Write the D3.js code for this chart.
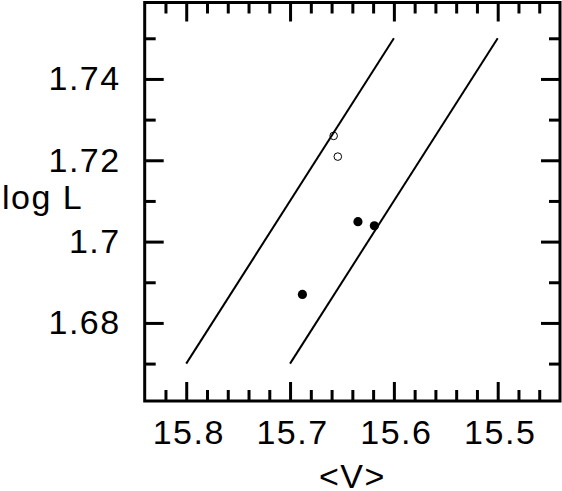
<!DOCTYPE html>
<html>
<head>
<meta charset="utf-8">
<script src="https://cdn.jsdelivr.net/npm/d3@7"></script>
<style>
  body { margin: 0; background: #fff; }
  svg { display: block; }
  .tick text { font-family: "Liberation Sans", Arial, Helvetica, sans-serif; font-size: 34px; letter-spacing: 1.5px; fill: #000; }
  .tick line { stroke: #000; stroke-width: 3px; }
  .label { font-family: "Liberation Sans", Arial, Helvetica, sans-serif; font-size: 34px; letter-spacing: 1.5px; fill: #000; }
</style>
</head>
<body>
<svg width="562" height="491"></svg>
<script>
// data
const xMajor = [15.8, 15.7, 15.6, 15.5];
const xMinor = [15.82, 15.78, 15.76, 15.74, 15.72, 15.68, 15.66, 15.64, 15.62, 15.58, 15.56, 15.54, 15.52, 15.48, 15.46];
const yMajor = [1.68, 1.70, 1.72, 1.74];
const yMinor = [1.67, 1.69, 1.71, 1.73, 1.75];

const lineA = [[15.8, 1.67], [15.6, 1.75]];
const lineB = [[15.7, 1.67], [15.5, 1.75]];

const openPts = [[15.658, 1.726], [15.654, 1.7209]];
const filledPts = [[15.6346, 1.7049], [15.6188, 1.7039], [15.6881, 1.687]];

const svg = d3.select("svg");

//x axis reversed
const x = d3.scaleLinear().domain([15.84, 15.44]).range([144.7, 560]);
const y = d3.scaleLinear().domain([1.6608, 1.7588]).range([401, 2.5]);

const fmt = (d) => String(d);

// bottom
svg.append("g")
  .attr("transform", `translate(0,${y.range()[0]})`)
  .call(d3.axisBottom(x).tickValues(xMajor).tickSize(-19).tickPadding(19).tickFormat(fmt))
  .call(g => g.select(".domain").remove())
  .call(g => g.selectAll("text").attr("dx", "2"));
svg.append("g")
  .attr("transform", `translate(0,${y.range()[0]})`)
  .call(d3.axisBottom(x).tickValues(xMinor).tickSize(-11).tickFormat(""))
  .call(g => g.select(".domain").remove());

// top
svg.append("g")
  .attr("transform", `translate(0,${y.range()[1]})`)
  .call(d3.axisTop(x).tickValues(xMajor).tickSize(-19).tickFormat(""))
  .call(g => g.select(".domain").remove());
svg.append("g")
  .attr("transform", `translate(0,${y.range()[1]})`)
  .call(d3.axisTop(x).tickValues(xMinor).tickSize(-11).tickFormat(""))
  .call(g => g.select(".domain").remove());

// left
svg.append("g")
  .attr("transform", `translate(${x.range()[0]},0)`)
  .call(d3.axisLeft(y).tickValues(yMajor).tickSize(-19).tickPadding(24).tickFormat(fmt))
  .call(g => g.select(".domain").remove());
svg.append("g")
  .attr("transform", `translate(${x.range()[0]},0)`)
  .call(d3.axisLeft(y).tickValues(yMinor).tickSize(-11).tickFormat(""))
  .call(g => g.select(".domain").remove());

// right
svg.append("g")
  .attr("transform", `translate(${x.range()[1]},0)`)
  .call(d3.axisRight(y).tickValues(yMajor).tickSize(-19).tickFormat(""))
  .call(g => g.select(".domain").remove());
svg.append("g")
  .attr("transform", `translate(${x.range()[1]},0)`)
  .call(d3.axisRight(y).tickValues(yMinor).tickSize(-11).tickFormat(""))
  .call(g => g.select(".domain").remove());

// frame
svg.append("rect")
  .attr("x", x.range()[0])
  .attr("y", y.range()[1])
  .attr("width", x.range()[1] - x.range()[0])
  .attr("height", y.range()[0] - y.range()[1])
  .attr("fill", "none")
  .attr("stroke", "#000")
  .attr("stroke-width", 3);

const line = d3.line().x(d => x(d[0])).y(d => y(d[1]));

svg.selectAll(".fit")
  .data([lineA, lineB])
  .enter()
  .append("path")
  .attr("class", "fit")
  .attr("d", line)
  .attr("fill", "none")
  .attr("stroke", "#000")
  .attr("stroke-width", 2);

svg.selectAll(".open")
  .data(openPts)
  .enter()
  .append("circle")
  .attr("class", "open")
  .attr("cx", d => x(d[0]))
  .attr("cy", d => y(d[1]))
  .attr("r", 3.8)
  .attr("fill", "#fff")
  .attr("fill-opacity", 0)
  .attr("stroke", "#000")
  .attr("stroke-width", 1);

svg.selectAll(".filled")
  .data(filledPts)
  .enter()
  .append("circle")
  .attr("class", "filled")
  .attr("cx", d => x(d[0]))
  .attr("cy", d => y(d[1]))
  .attr("r", 4.6)
  .attr("fill", "#000");

// axis titles
svg.append("text")
  .attr("class", "label")
  .attr("x", 2)
  .attr("y", 209)
  .text("log L");

svg.append("text")
  .attr("class", "label")
  .attr("x", (x.range()[0] + x.range()[1]) / 2)
  .attr("y", 488)
  .attr("text-anchor", "middle")
  .text("<V>");
</script>
</body>
</html>
